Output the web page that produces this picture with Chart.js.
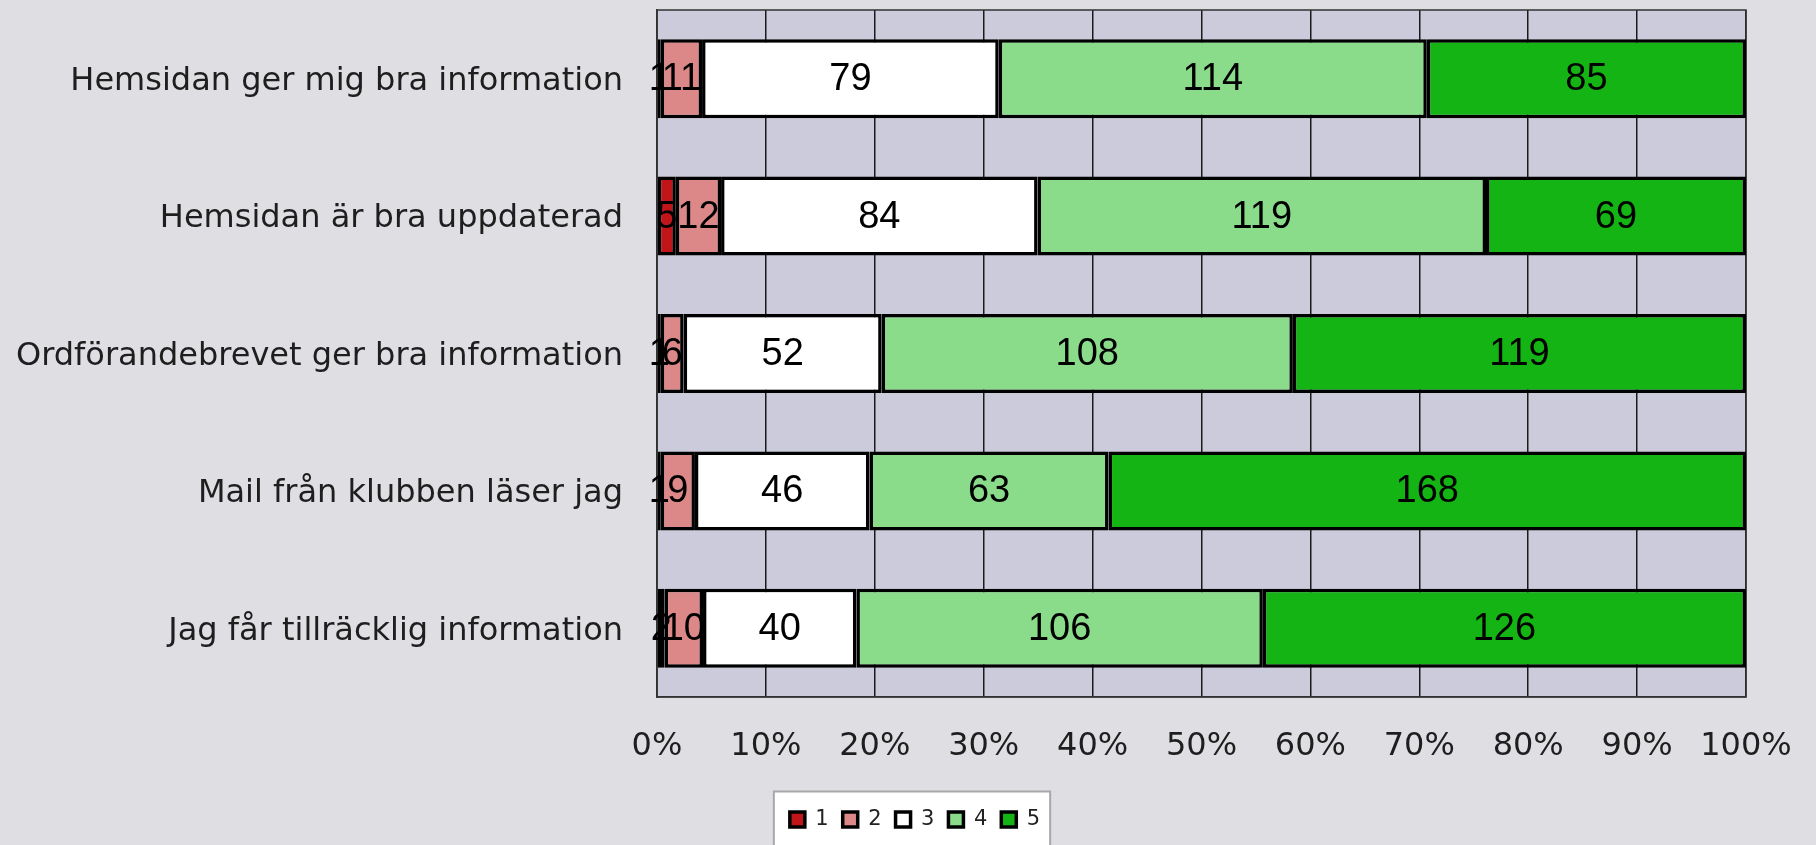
<!DOCTYPE html>
<html>
<head>
<meta charset="utf-8">
<script src="https://cdn.jsdelivr.net/npm/chart.js@4.4.0/dist/chart.umd.min.js"></script>
<style>
    html, body { margin: 0; padding: 0; background: #dfdfe3; }
    #wrap { width: 1816px; height: 845px; position: relative; }
</style>
</head>
<body>
<div id="wrap"><canvas id="chart"></canvas></div>
<script>
// Survey answers per statement (counts for grade 1..5)
const categories = [
    'Hemsidan ger mig bra information',
    'Hemsidan är bra uppdaterad',
    'Ordförandebrevet ger bra information',
    'Mail från klubben läser jag',
    'Jag får tillräcklig information'
];
const grade1 = [1, 5, 1, 1, 2];
const grade2 = [11, 12, 6, 9, 10];
const grade3 = [79, 84, 52, 46, 40];
const grade4 = [114, 119, 108, 63, 106];
const grade5 = [85, 69, 119, 168, 126];
const seriesNames = ['1', '2', '3', '4', '5'];
const tickLabels = ['0%', '10%', '20%', '30%', '40%', '50%', '60%', '70%', '80%', '90%', '100%'];

// Colors
const COLORS = ['#c0161a', '#dd8888', '#ffffff', '#8adb8a', '#14b414'];

const allSeries = [grade1, grade2, grade3, grade4, grade5];
const totals = categories.map((c, i) => allSeries.reduce((s, arr) => s + arr[i], 0));

const datasets = allSeries.map((arr, k) => ({
    label: seriesNames[k],
    data: arr.map((v, i) => v / totals[i] * 100),
    counts: arr,
    backgroundColor: COLORS[k],
    borderColor: '#000000',
    borderWidth: 3.5,
    borderSkipped: false,
    barPercentage: 0.575,
    categoryPercentage: 1.0
}));

// legend sits centered on the page, not on the chart width
const LEGEND_SHIFT = 42;

/**
 * Plot background + frame + legend box
 */
const plotBackground = {
    id: 'plotBackground',
    afterLayout(chart) {
        if (chart.legend) {
            chart.legend.left += LEGEND_SHIFT;
            chart.legend.right += LEGEND_SHIFT;
        }
    },
    beforeDraw(chart) {
        const {ctx, chartArea: a} = chart;
        ctx.save();
        ctx.fillStyle = '#cbcbdb';
        ctx.fillRect(a.left, a.top, a.right - a.left, a.bottom - a.top);
        ctx.restore();

        // white box behind the legend
        const boxes = chart.legend && chart.legend.legendHitBoxes;
        if (boxes && boxes.length) {
            const left = Math.min(...boxes.map(b => b.left)) - 16;
            const right = Math.max(...boxes.map(b => b.left + b.width)) + 10;
            const top = boxes[0].top + boxes[0].height / 2 - 28;
            ctx.save();
            ctx.fillStyle = '#ffffff';
            ctx.strokeStyle = '#a8a8a8';
            ctx.lineWidth = 2;
            ctx.fillRect(left, top, right - left, 100);
            ctx.strokeRect(left, top, right - left, 100);
            ctx.restore();
        }
    },
    beforeDatasetsDraw(chart) {
        const {ctx, chartArea: a} = chart;
        ctx.save();
        ctx.strokeStyle = '#333333';
        ctx.lineWidth = 1.5;
        ctx.strokeRect(a.left, a.top, a.right - a.left, a.bottom - a.top);
        ctx.restore();
    }
};

/**
 * Count labels in the middle of each segment
 */
const countLabels = {
    id: 'countLabels',
    afterDatasetsDraw(chart) {
        const {ctx} = chart;
        ctx.save();
        ctx.font = '38px "Liberation Sans", Arial, sans-serif';
        ctx.fillStyle = '#000000';
        ctx.textAlign = 'center';
        ctx.textBaseline = 'middle';
        chart.data.datasets.forEach((ds, k) => {
            const meta = chart.getDatasetMeta(k);
            meta.data.forEach((el, i) => {
                const p = el.getProps(['x', 'y', 'base'], true);
                ctx.fillText(String(ds.counts[i]), (p.x + p.base) / 2, p.y + 1);
            });
        });
        ctx.restore();
    }
};

const chart = new Chart(document.getElementById('chart'), {
    type: 'bar',
    data: {
        labels: categories,
        datasets: datasets
    },
    options: {
        indexAxis: 'y',
        responsive: true,
        maintainAspectRatio: false,
        animation: false,
        layout: {
            padding: { top: 10, right: 70, left: 0, bottom: 5 }
        },
        plugins: {
            legend: {
                display: true,
                position: 'bottom',
                labels: {
                    color: '#222222',
                    boxWidth: 15,
                    boxHeight: 15,
                    padding: 14,
                    font: { family: '"DejaVu Sans", sans-serif', size: 21 }
                }
            },
            tooltip: { enabled: false }
        },
        scales: {
            x: {
                stacked: true,
                min: 0,
                max: 100,
                ticks: {
                    stepSize: 10,
                    color: '#1e1e1e',
                    padding: 30,
                    maxRotation: 0,
                    font: { family: '"DejaVu Sans", sans-serif', size: 32 },
                    callback: function(value, index) {
                        return tickLabels[index];
                    }
                },
                grid: {
                    color: '#1a1a1a',
                    lineWidth: 1.5,
                    drawTicks: false
                },
                border: { color: '#333333', width: 1.5 },
                afterFit: function(scale) {
                    scale.height = 98;
                    scale.paddingLeft = 0;
                    scale.paddingRight = 0;
                }
            },
            y: {
                stacked: true,
                ticks: {
                    color: '#1e1e1e',
                    padding: 34,
                    labelOffset: 3,
                    font: { family: '"DejaVu Sans", sans-serif', size: 32 }
                },
                grid: { display: false, drawTicks: false },
                border: { color: '#333333', width: 1.5 },
                afterFit: function(scale) {
                    scale.width = 657;
                    scale.paddingTop = 0;
                    scale.paddingBottom = 0;
                }
            }
        }
    },
    plugins: [plotBackground, countLabels]
});
</script>
</body>
</html>
